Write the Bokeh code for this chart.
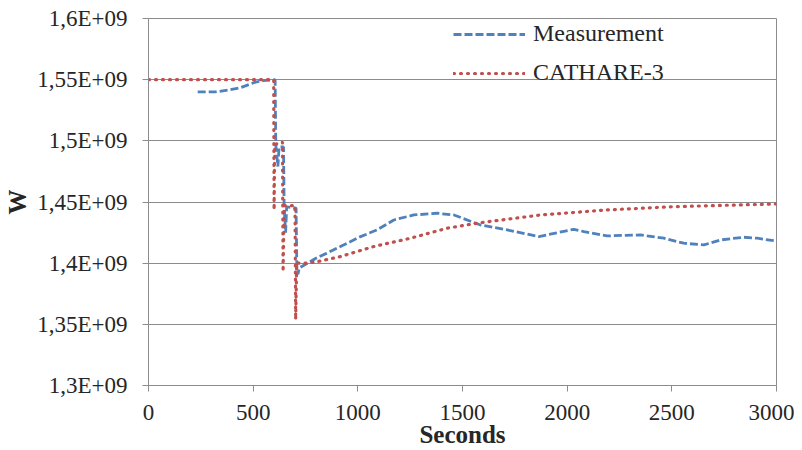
from bokeh.plotting import figure
from bokeh.models import Range1d, FixedTicker, CustomJSTickFormatter, Legend, LegendItem
from bokeh.embed import file_html
from bokeh.resources import INLINE

# Measurement (seconds, W)
meas_t = [235, 320, 380, 440, 511, 559, 605, 608, 618, 624, 645, 648, 655, 660, 705, 709, 714, 720,
          760, 800, 850, 917, 1013, 1092, 1172, 1267, 1379, 1459, 1586, 1713, 1865, 2032, 2080,
          2191, 2350, 2462, 2557, 2653, 2733, 2844, 2908, 3000]
meas_w = [1.540e9, 1.540e9, 1.5415e9, 1.5435e9, 1.548e9, 1.5495e9, 1.550e9, 1.497e9, 1.479e9, 1.495e9,
          1.495e9, 1.446e9, 1.425e9, 1.446e9, 1.445e9, 1.392e9, 1.391e9, 1.396e9,
          1.400e9, 1.404e9, 1.408e9, 1.4136e9, 1.4217e9, 1.4272e9, 1.4353e9, 1.4394e9, 1.4408e9,
          1.4394e9, 1.4312e9, 1.4272e9, 1.4217e9, 1.4277e9, 1.4258e9, 1.4223e9, 1.4231e9,
          1.4204e9, 1.4163e9, 1.4149e9, 1.419e9, 1.4212e9, 1.4204e9, 1.418e9]

# CATHARE-3 (seconds, W)
cath_t = [0, 100, 200, 300, 400, 500, 598, 600, 603, 640, 643, 648, 700, 703, 708, 750, 800,
          917, 1076, 1252, 1427, 1586, 1873, 2191, 2509, 3000]
cath_w = [1.55e9, 1.55e9, 1.55e9, 1.55e9, 1.55e9, 1.55e9, 1.55e9, 1.4435e9, 1.497e9, 1.499e9,
          1.393e9, 1.447e9, 1.447e9, 1.354e9, 1.400e9, 1.400e9, 1.401e9, 1.4054e9, 1.4136e9,
          1.4204e9, 1.4286e9, 1.4331e9, 1.4394e9, 1.4435e9, 1.4462e9, 1.4484e9]

x_ticks = [0, 500, 1000, 1500, 2000, 2500, 3000]
y_ticks = [1.30e9, 1.35e9, 1.40e9, 1.45e9, 1.50e9, 1.55e9, 1.60e9]

FONT = "Liberation Serif"
BLUE = "#4F81BD"
RED = "#C0504D"
GRID = "#8c8c8c"

p = figure(width=794, height=450, output_backend="svg", toolbar_location=None,
           x_range=Range1d(0, 3000), y_range=Range1d(1.3e9, 1.6e9),
           min_border_left=148, min_border_right=18, min_border_top=18, min_border_bottom=64)

p.background_fill_color = "white"
p.border_fill_color = "white"
p.outline_line_color = GRID
p.outline_line_width = 1

r1 = p.line(meas_t, meas_w, line_color=BLUE, line_width=2.8, line_dash="8 3")
r2 = p.line(cath_t, cath_w, line_color=RED, line_width=3.2, line_dash="1 6", line_cap="round")

p.xgrid.visible = False
p.ygrid.grid_line_color = GRID
p.ygrid.grid_line_width = 1

for ax in (p.xaxis[0], p.yaxis[0]):
    ax.axis_line_color = GRID
    ax.major_tick_line_color = GRID
    ax.major_tick_out = 6
    ax.major_tick_in = 0
    ax.minor_tick_line_color = None
    ax.major_label_text_font = FONT
    ax.major_label_text_font_size = "23px"
    ax.major_label_text_color = "#262626"
    ax.axis_label_text_font = FONT
    ax.axis_label_text_font_style = "bold"
    ax.axis_label_text_font_size = "25px"
    ax.axis_label_text_color = "#262626"

p.xaxis.ticker = FixedTicker(ticks=x_ticks)
p.yaxis.ticker = FixedTicker(ticks=y_ticks)
p.yaxis.formatter = CustomJSTickFormatter(
    code="var v = Math.round(tick/1e7)/100; return String(v).replace('.', ',') + 'E+09';")
p.xaxis.axis_label = "Seconds"
p.yaxis.axis_label = "W"
p.xaxis.major_label_standoff = 13
p.yaxis.major_label_standoff = 15
p.xaxis.axis_label_standoff = -2
p.yaxis.axis_label_standoff = 3

legend = Legend(items=[LegendItem(label="Measurement", renderers=[r1]),
                       LegendItem(label="CATHARE-3", renderers=[r2])],
                location=(305, 299), padding=0, margin=0, spacing=12,
                glyph_width=72, glyph_height=24, label_height=24, label_standoff=8,
                label_text_font=FONT, label_text_font_size="24px", label_text_color="#262626",
                border_line_alpha=0, background_fill_alpha=0)
p.add_layout(legend)

open("out.html", "w").write(file_html(p, INLINE))
